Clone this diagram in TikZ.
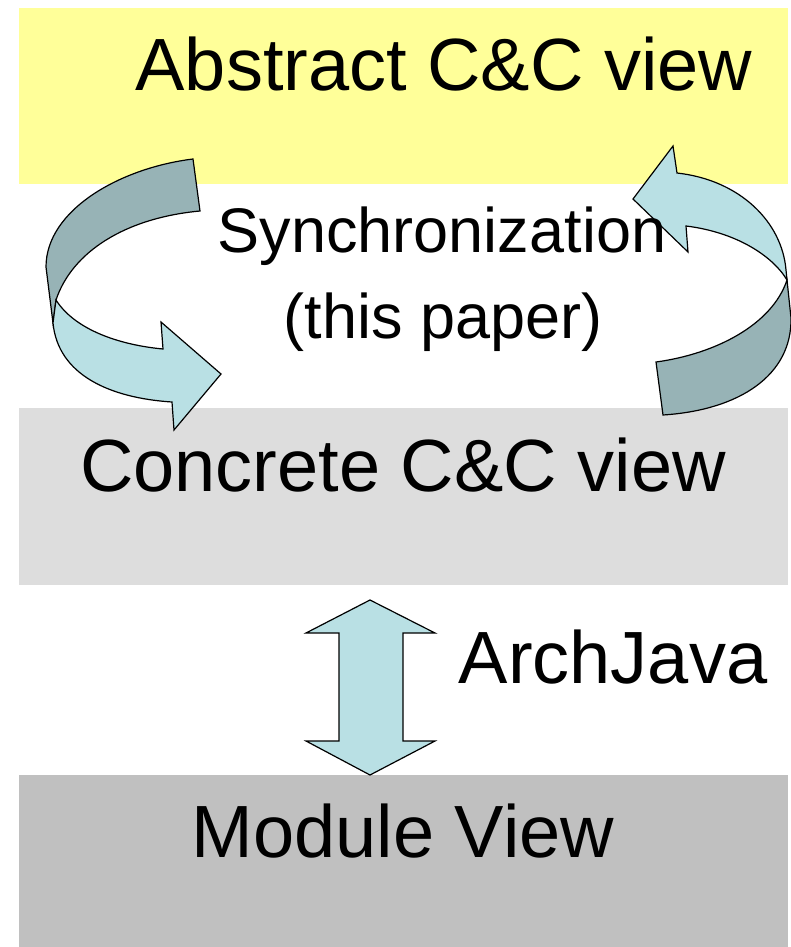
\documentclass[tikz,border=0pt]{standalone}
\usepackage{fontspec}
\setmainfont{Liberation Sans}
\usepackage{tikz}
\usetikzlibrary{positioning}
\definecolor{abstractyellow}{HTML}{FFFF99}
\definecolor{concretegray}{HTML}{DDDDDD}
\definecolor{modulegray}{HTML}{C0C0C0}
\definecolor{ribbonlight}{HTML}{B9E0E4}
\definecolor{ribbondark}{HTML}{97B3B6}
\tikzset{
  layer/.style = {rectangle, inner sep=0pt, anchor=north west,
                  minimum width=769pt},
  big label/.style = {anchor=base, inner sep=0pt,
                      font=\fontsize{74}{80}\selectfont},
  sync label/.style = {anchor=base, inner sep=0pt,
                       font=\fontsize{63}{70}\selectfont},
  ribbon front/.style = {fill=ribbonlight, draw=black, line width=1.2pt,
                         line join=miter},
  ribbon back/.style  = {fill=ribbondark, draw=black, line width=1.2pt,
                         line join=miter},
}

\begin{document}
\begin{tikzpicture}[x=1pt, y=-1pt]
\useasboundingbox (0,0) rectangle (791,947);
\clip (0,0) rectangle (791,947);

% =====================================================================
% Layers
% =====================================================================
\node[layer, fill=abstractyellow, minimum height=176pt] (abstract) at (19,8)   {};
\node[layer, fill=concretegray,   minimum height=177pt] (concrete) at (19,408) {};
\node[layer, fill=modulegray,     minimum height=172pt] (module)   at (19,775) {};

% =====================================================================
% Left curved arrow (abstract -> concrete)
% =====================================================================
\draw[ribbon back] (193,159) .. controls (120,168) and (46,210) .. (46,267)
  -- (53,323) -- (56,300)
  .. controls (72,252) and (125,218) .. (200,211) -- cycle;
\draw[ribbon front] (56,300) .. controls (75,330) and (120,345) .. (163,349)
  -- (161,322) -- (221,374) -- (174,430) -- (172,402)
  .. controls (110,398) and (58,375) .. (53,323) -- cycle;

% =====================================================================
% Right curved arrow (concrete -> abstract)
% =====================================================================
\draw[ribbon back] (787,280) -- (791,318)
  .. controls (792,375) and (740,410) .. (663,415) -- (656,362)
  .. controls (715,354) and (772,325) .. (787,280) -- cycle;
\draw[ribbon front] (787,280) .. controls (772,255) and (735,232) .. (686,226)
  -- (688,252) -- (633,199) -- (673,146) -- (677,173)
  .. controls (740,180) and (782,222) .. (786,270) -- cycle;

% =====================================================================
% Double arrow (concrete <-> module)
% =====================================================================
\draw[ribbon front] (370,600) -- (435,633) -- (403,633) -- (403,741)
  -- (435,741) -- (370,775) -- (306,741) -- (339,741) -- (339,633)
  -- (306,633) -- cycle;

% =====================================================================
% Labels
% =====================================================================
\node[big label]  (abstracttxt) at (444,91)  {Abstract C\&C view};
\node[sync label] (synctxt)     at (442,252) {Synchronization};
\node[sync label] (papertxt)    at (443,338) {(this paper)};
\node[big label]  (concretetxt) at (403,491) {Concrete C\&C view};
\node[big label]  (archtxt)     at (613,683) {ArchJava};
\node[big label]  (moduletxt)   at (403,857) {Module View};

\end{tikzpicture}
\end{document}
